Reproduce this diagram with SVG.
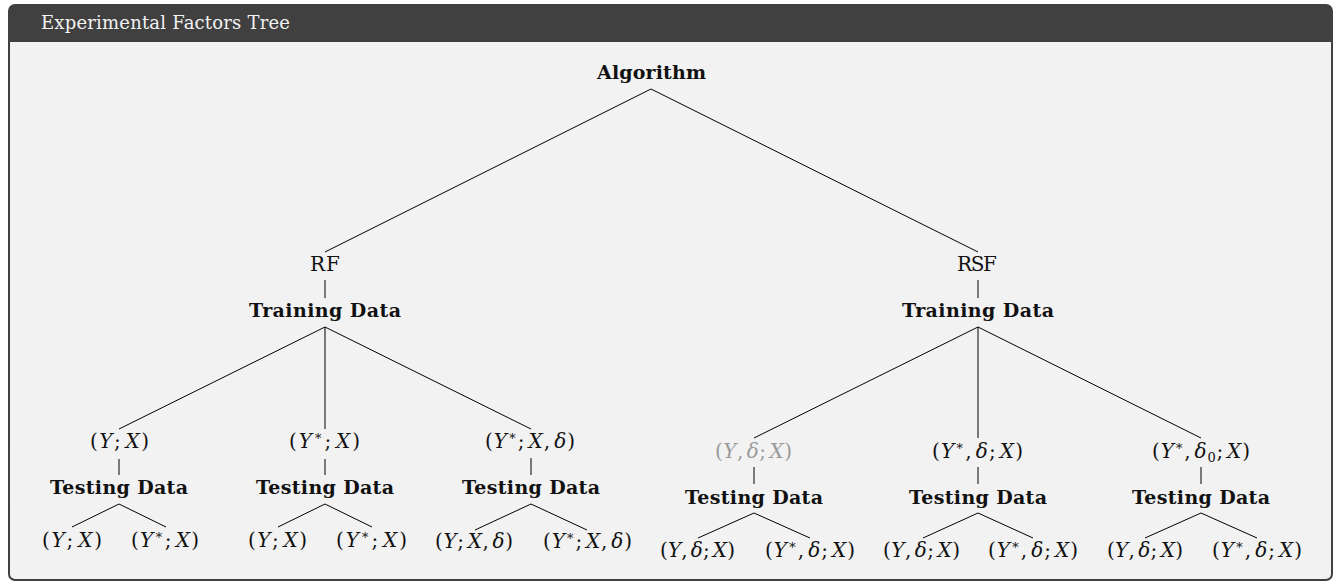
<svg xmlns="http://www.w3.org/2000/svg" width="1336" height="584" viewBox="0 0 1336 584">
<style>
.t{font-family:"DejaVu Serif","Liberation Serif",serif;text-anchor:middle;fill:#111}
.b{font-weight:bold;font-size:19px}
.r{font-size:20px}
.m{font-size:20px}
.i{font-style:italic}
.s{font-size:13px}
.g{fill:#9a9a9a}
.ln{stroke:#000;stroke-width:1;fill:none;stroke-linecap:butt}
</style>
<rect x="0" y="0" width="1336" height="584" fill="#ffffff"/>
<g id="frame">
<rect x="9" y="5" width="1323" height="575" rx="6" ry="6" fill="#f2f2f2" stroke="#404040" stroke-width="2"/>
<path d="M9,42 V11 Q9,5 15,5 H1326 Q1332,5 1332,11 V42 Z" fill="#404040"/>
<text x="41" y="29" font-family="DejaVu Serif, Liberation Serif, serif" font-size="18" fill="#f2f2f2" textLength="249">Experimental Factors Tree</text>
</g>
<g id="connectors">
<line class="ln" x1="651" y1="89" x2="325" y2="252"/>
<line class="ln" x1="651" y1="89" x2="978" y2="252"/>
<line class="ln" x1="325" y1="280" x2="325" y2="298"/>
<line class="ln" x1="978" y1="280" x2="978" y2="298"/>
<line class="ln" x1="325" y1="327" x2="119" y2="429"/>
<line class="ln" x1="325" y1="327" x2="325" y2="429"/>
<line class="ln" x1="325" y1="327" x2="531" y2="429"/>
<line class="ln" x1="978" y1="327" x2="754" y2="438"/>
<line class="ln" x1="978" y1="327" x2="978" y2="438"/>
<line class="ln" x1="978" y1="327" x2="1201" y2="438"/>
<line class="ln" x1="119" y1="459" x2="119" y2="475"/>
<line class="ln" x1="325" y1="459" x2="325" y2="475"/>
<line class="ln" x1="531" y1="458" x2="531" y2="475"/>
<line class="ln" x1="754" y1="467" x2="754" y2="484"/>
<line class="ln" x1="978" y1="467" x2="978" y2="484"/>
<line class="ln" x1="1201" y1="467" x2="1201" y2="484"/>
<line class="ln" x1="119" y1="504" x2="72" y2="527"/>
<line class="ln" x1="119" y1="504" x2="166" y2="527"/>
<line class="ln" x1="325" y1="504" x2="278" y2="527"/>
<line class="ln" x1="325" y1="504" x2="372" y2="527"/>
<line class="ln" x1="531" y1="504" x2="475" y2="530"/>
<line class="ln" x1="531" y1="504" x2="587" y2="530"/>
<line class="ln" x1="754" y1="513" x2="698" y2="538"/>
<line class="ln" x1="754" y1="513" x2="810" y2="538"/>
<line class="ln" x1="978" y1="513" x2="923" y2="538"/>
<line class="ln" x1="978" y1="513" x2="1033" y2="538"/>
<line class="ln" x1="1201" y1="513" x2="1145" y2="538"/>
<line class="ln" x1="1201" y1="513" x2="1257" y2="538"/>
</g>
<g id="n-algorithm"><text class="t b" x="651.5" y="79" textLength="109">Algorithm</text></g>
<g id="n-rf"><text class="t r" x="325" y="271" textLength="30">RF</text></g>
<g id="n-rsf"><text class="t r" x="977" y="271" textLength="40">RSF</text></g>
<g id="n-train-rf"><text class="t b" x="325" y="317" textLength="152">Training Data</text></g>
<g id="n-train-rsf"><text class="t b" x="978" y="317" textLength="152">Training Data</text></g>

<g id="n-rf-1"><text class="t m" x="119.5" y="448" textLength="59">(<tspan class="i">Y</tspan>;<tspan class="i" dx="3">X</tspan>)</text></g>
<g id="n-rf-2"><text class="t m" x="324.5" y="448" textLength="71">(<tspan class="i">Y</tspan><tspan class="s" dy="-8">∗</tspan><tspan dy="8">;</tspan><tspan class="i" dx="3">X</tspan>)</text></g>
<g id="n-rf-3"><text class="t m" x="530" y="448" textLength="90">(<tspan class="i">Y</tspan><tspan class="s" dy="-8">∗</tspan><tspan dy="8">;</tspan><tspan class="i" dx="3">X</tspan>,<tspan class="i" dx="3">δ</tspan>)</text></g>
<g id="n-rsf-1"><text class="t m g" x="753.5" y="458" textLength="77">(<tspan class="i">Y</tspan>,<tspan class="i" dx="3">δ</tspan>;<tspan class="i" dx="3">X</tspan>)</text></g>
<g id="n-rsf-2"><text class="t m" x="977.5" y="458" textLength="91">(<tspan class="i">Y</tspan><tspan class="s" dy="-8">∗</tspan><tspan dy="8">,</tspan><tspan class="i" dx="3">δ</tspan>;<tspan class="i" dx="3">X</tspan>)</text></g>
<g id="n-rsf-3"><text class="t m" x="1201" y="458" textLength="98">(<tspan class="i">Y</tspan><tspan class="s" dy="-8">∗</tspan><tspan dy="8">,</tspan><tspan class="i" dx="3">δ</tspan><tspan class="s" dy="4">0</tspan><tspan dy="-4">;</tspan><tspan class="i" dx="3">X</tspan>)</text></g>

<g id="n-test-1"><text class="t b" x="119" y="494" textLength="138">Testing Data</text></g>
<g id="n-test-2"><text class="t b" x="325" y="494" textLength="138">Testing Data</text></g>
<g id="n-test-3"><text class="t b" x="531" y="494" textLength="138">Testing Data</text></g>
<g id="n-test-4"><text class="t b" x="754" y="504" textLength="138">Testing Data</text></g>
<g id="n-test-5"><text class="t b" x="978" y="504" textLength="138">Testing Data</text></g>
<g id="n-test-6"><text class="t b" x="1201" y="504" textLength="138">Testing Data</text></g>

<g id="n-leaf-1a"><text class="t m" x="72" y="547" textLength="60">(<tspan class="i">Y</tspan>;<tspan class="i" dx="3">X</tspan>)</text></g>
<g id="n-leaf-1b"><text class="t m" x="165" y="547" textLength="68">(<tspan class="i">Y</tspan><tspan class="s" dy="-8">∗</tspan><tspan dy="8">;</tspan><tspan class="i" dx="3">X</tspan>)</text></g>
<g id="n-leaf-2a"><text class="t m" x="277.5" y="547" textLength="59">(<tspan class="i">Y</tspan>;<tspan class="i" dx="3">X</tspan>)</text></g>
<g id="n-leaf-2b"><text class="t m" x="371.5" y="547" textLength="71">(<tspan class="i">Y</tspan><tspan class="s" dy="-8">∗</tspan><tspan dy="8">;</tspan><tspan class="i" dx="3">X</tspan>)</text></g>
<g id="n-leaf-3a"><text class="t m" x="474" y="548" textLength="78">(<tspan class="i">Y</tspan>;<tspan class="i" dx="3">X</tspan>,<tspan class="i" dx="3">δ</tspan>)</text></g>
<g id="n-leaf-3b"><text class="t m" x="587.5" y="548" textLength="89">(<tspan class="i">Y</tspan><tspan class="s" dy="-8">∗</tspan><tspan dy="8">;</tspan><tspan class="i" dx="3">X</tspan>,<tspan class="i" dx="3">δ</tspan>)</text></g>
<g id="n-leaf-4a"><text class="t m" x="697.5" y="557" textLength="75">(<tspan class="i">Y</tspan>,<tspan class="i" dx="3">δ</tspan>;<tspan class="i" dx="3">X</tspan>)</text></g>
<g id="n-leaf-4b"><text class="t m" x="810" y="557" textLength="90">(<tspan class="i">Y</tspan><tspan class="s" dy="-8">∗</tspan><tspan dy="8">,</tspan><tspan class="i" dx="3">δ</tspan>;<tspan class="i" dx="3">X</tspan>)</text></g>
<g id="n-leaf-5a"><text class="t m" x="921.5" y="557" textLength="77">(<tspan class="i">Y</tspan>,<tspan class="i" dx="3">δ</tspan>;<tspan class="i" dx="3">X</tspan>)</text></g>
<g id="n-leaf-5b"><text class="t m" x="1033" y="557" textLength="90">(<tspan class="i">Y</tspan><tspan class="s" dy="-8">∗</tspan><tspan dy="8">,</tspan><tspan class="i" dx="3">δ</tspan>;<tspan class="i" dx="3">X</tspan>)</text></g>
<g id="n-leaf-6a"><text class="t m" x="1145" y="557" textLength="76">(<tspan class="i">Y</tspan>,<tspan class="i" dx="3">δ</tspan>;<tspan class="i" dx="3">X</tspan>)</text></g>
<g id="n-leaf-6b"><text class="t m" x="1257" y="557" textLength="90">(<tspan class="i">Y</tspan><tspan class="s" dy="-8">∗</tspan><tspan dy="8">,</tspan><tspan class="i" dx="3">δ</tspan>;<tspan class="i" dx="3">X</tspan>)</text></g>
</svg>
